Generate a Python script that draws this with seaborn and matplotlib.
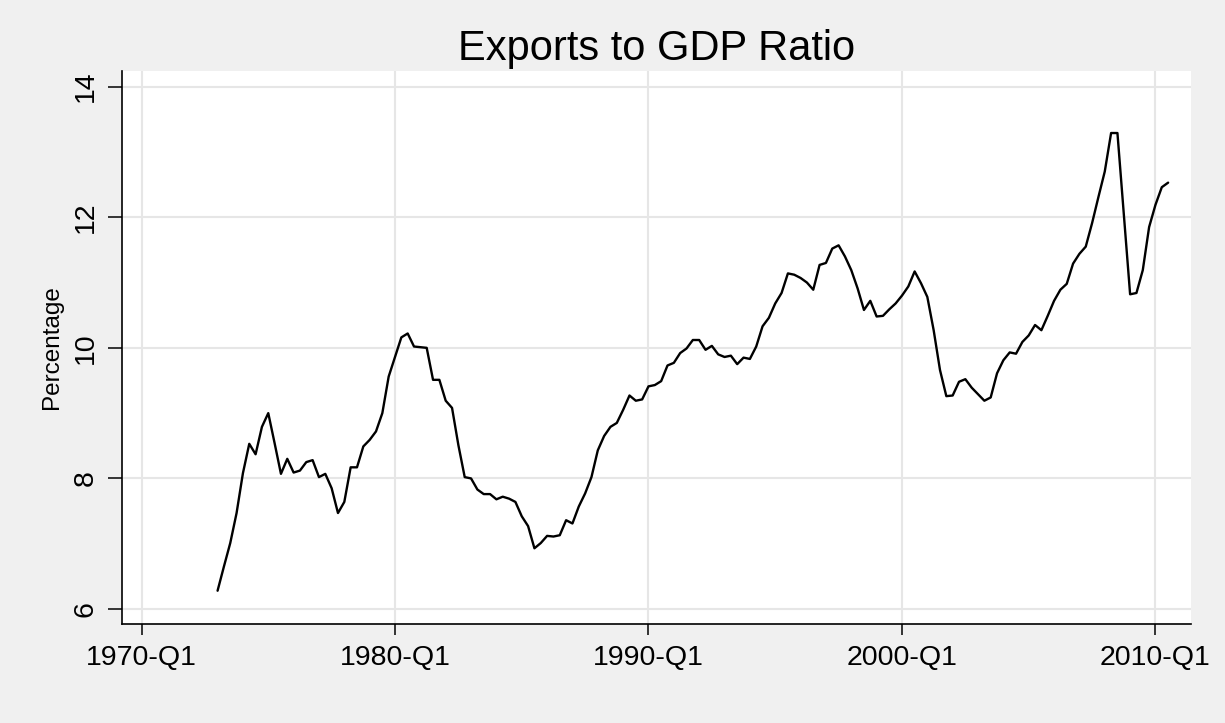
import numpy as np
import pandas as pd
import matplotlib
matplotlib.use("Agg")
import matplotlib.pyplot as plt
import seaborn as sns

# ---- data ----
start_quarter = "1973Q1"
ratio = [
    6.28, 6.65, 7.01, 7.47,
    8.08, 8.53, 8.37, 8.79,
    9.00, 8.54, 8.07, 8.30,
    8.09, 8.12, 8.25, 8.28,
    8.02, 8.07, 7.85, 7.47,
    7.64, 8.17, 8.17, 8.49,
    8.59, 8.72, 9.00, 9.56,
    9.86, 10.16, 10.22, 10.02,
    10.01, 10.00, 9.51, 9.51,
    9.19, 9.08, 8.51, 8.02,
    8.00, 7.83, 7.76, 7.76,
    7.68, 7.72, 7.69, 7.64,
    7.42, 7.27, 6.93, 7.01,
    7.12, 7.11, 7.13, 7.36,
    7.31, 7.57, 7.77, 8.02,
    8.43, 8.65, 8.79, 8.85,
    9.05, 9.27, 9.19, 9.21,
    9.41, 9.43, 9.49, 9.73,
    9.77, 9.92, 9.99, 10.12,
    10.12, 9.97, 10.03, 9.90,
    9.86, 9.88, 9.75, 9.85,
    9.83, 10.02, 10.33, 10.46,
    10.68, 10.84, 11.14, 11.12,
    11.07, 11.00, 10.89, 11.27,
    11.30, 11.52, 11.57, 11.40,
    11.19, 10.91, 10.58, 10.72,
    10.48, 10.49, 10.59, 10.68,
    10.80, 10.94, 11.17, 10.99,
    10.78, 10.27, 9.66, 9.26,
    9.27, 9.48, 9.52, 9.39,
    9.29, 9.19, 9.24, 9.61,
    9.81, 9.93, 9.91, 10.09,
    10.19, 10.35, 10.27, 10.49,
    10.72, 10.89, 10.98, 11.29,
    11.44, 11.55, 11.91, 12.31,
    12.70, 13.29, 13.29, 12.05,
    10.82, 10.84, 11.19, 11.85,
    12.19, 12.46, 12.53,
]
x_tick_years = [1970, 1980, 1990, 2000, 2010]
x_tick_labels = ["1970-Q1", "1980-Q1", "1990-Q1", "2000-Q1", "2010-Q1"]
y_ticks = [6, 8, 10, 12, 14]
title = "Exports to GDP Ratio"
ylabel = "Percentage"

periods = pd.period_range(start_quarter, periods=len(ratio), freq="Q")
df = pd.DataFrame({
    "time": periods.year + (periods.quarter - 1) / 4.0,
    "ratio": ratio,
})

# ---- style ----
sns.set_theme(style="white")
plt.rcParams["font.family"] = ["Liberation Sans", "DejaVu Sans"]

bg = "#F0F0F0"
grid_c = "#E6E6E6"

fig = plt.figure(figsize=(12.25, 7.23), dpi=100, facecolor=bg)
ax = fig.add_axes([0.0996, 0.1369, 0.9722 - 0.0996, 0.9018 - 0.1369])
ax.set_facecolor("white")

sns.lineplot(data=df, x="time", y="ratio", color="black", linewidth=1.7, ax=ax)

ax.set_xlim(1969.23, 2011.40)
ax.set_ylim(5.77, 14.24)
ax.set_xticks(x_tick_years)
ax.set_xticklabels(x_tick_labels)
ax.set_yticks(y_ticks)
ax.set_yticklabels([str(v) for v in y_ticks], rotation=90, va="center")

ax.grid(True, color=grid_c, linewidth=1.5)
ax.set_axisbelow(True)

for s in ["top", "right"]:
    ax.spines[s].set_visible(False)
for s in ["left", "bottom"]:
    ax.spines[s].set_color("black")
    ax.spines[s].set_linewidth(1.2)

ax.tick_params(axis="x", direction="out", length=8, width=1.1, color="black",
               pad=7, labelsize=20.5, labelcolor="black", bottom=True)
ax.tick_params(axis="y", direction="out", length=10, width=1.1, color="black",
               pad=7, labelsize=20.5, labelcolor="black", left=True)

ax.set_xlabel("")
ax.set_ylabel(ylabel, fontsize=17.5, color="black")
ax.yaxis.set_label_coords(-0.055, 0.5)
ax.set_title(title, fontsize=30, color="black", pad=8)

fig.savefig("out.png", dpi=100, facecolor=bg)
